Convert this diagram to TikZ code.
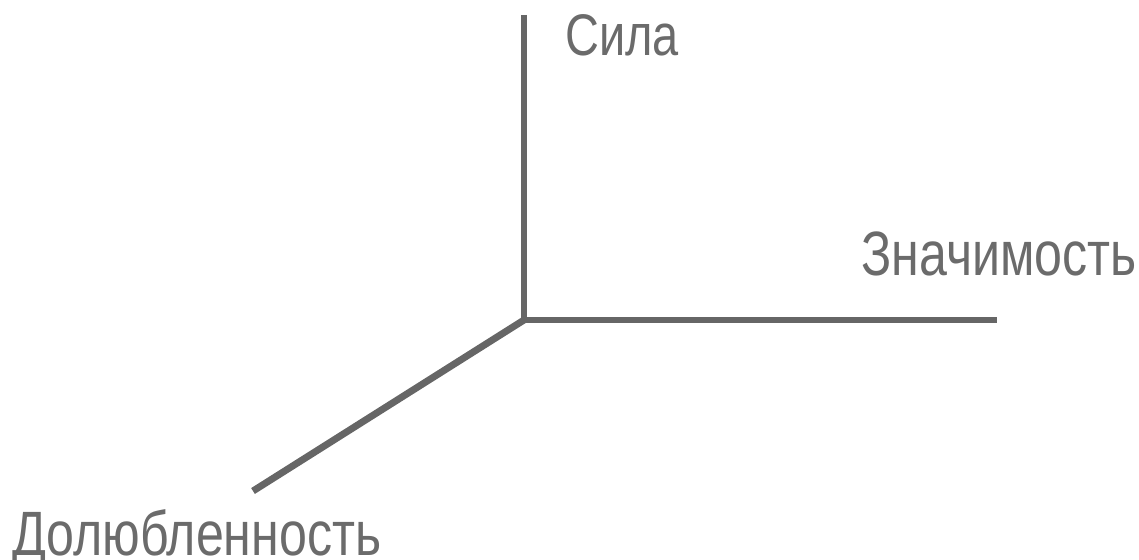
\documentclass[tikz,border=0pt]{standalone}
\usepackage{fontspec}
\setmainfont{Liberation Sans}[FakeStretch=0.8]
\definecolor{axisgray}{HTML}{666666}
\definecolor{labelgray}{HTML}{6B6B6B}
\tikzset{
  axisline/.style={draw=axisgray, line width=5.2pt, line cap=butt},
  axislabel/.style={text=labelgray, anchor=base west, inner sep=0pt, font=\fontsize{47}{50}\selectfont}
}
\begin{document}
\begin{tikzpicture}[x=0.75pt,y=-0.75pt]
\useasboundingbox (0,0) rectangle (1139,560);
\coordinate (O) at (524,320);
\coordinate (top) at (524,15);
\coordinate (right) at (997,320);
\coordinate (diag) at (253,491);
\draw[axisline] (top) -- (O) -- (right);
\draw[axisline] (O) -- (diag);
\node[axislabel, font=\fontsize{44}{48}\selectfont] (sila) at (565,56) {Сила};
\node[axislabel] (znach) at (861,275) {Значимость};
\node[axislabel] (dolu) at (12,555) {Долюбленность};
\end{tikzpicture}
\end{document}
